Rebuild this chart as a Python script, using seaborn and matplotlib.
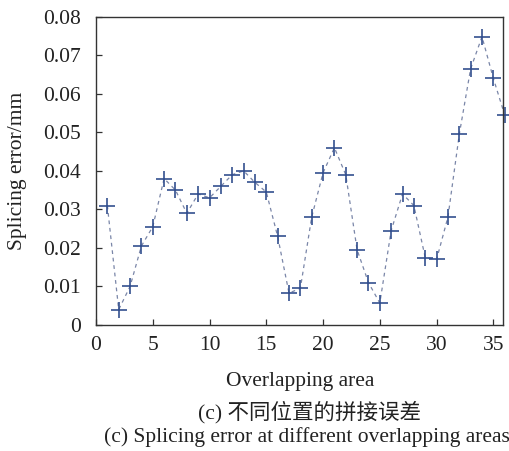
import matplotlib
matplotlib.use("Agg")
import matplotlib.pyplot as plt
import seaborn as sns
import pandas as pd

# ---- data ----
area = list(range(1, 37))
error = [0.031, 0.004, 0.010, 0.0205, 0.0255, 0.038, 0.035, 0.029, 0.034, 0.033,
         0.036, 0.039, 0.040, 0.037, 0.0345, 0.023, 0.0083, 0.0095, 0.028, 0.0395,
         0.046, 0.039, 0.0195, 0.011, 0.0057, 0.0245, 0.034, 0.031, 0.0175, 0.017,
         0.028, 0.0495, 0.0665, 0.0748, 0.064, 0.0545]
x_ticks = [0, 5, 10, 15, 20, 25, 30, 35]
y_ticks = [0, 0.01, 0.02, 0.03, 0.04, 0.05, 0.06, 0.07, 0.08]
y_tick_labels = ["0", "0.01", "0.02", "0.03", "0.04", "0.05", "0.06", "0.07", "0.08"]

df = pd.DataFrame({"area": area, "error": error})

sns.set_theme(style="white")
plt.rcParams["font.family"] = ["Liberation Serif", "Noto Sans CJK SC"]

FS = 15.5
fig = plt.figure(figsize=(5.10, 4.51), dpi=100)
ax = fig.add_axes([96 / 510, 1 - 325 / 451, (503 - 96) / 510, (325 - 16.7) / 451])

sns.lineplot(data=df, x="area", y="error", ax=ax, color="#7a86a8",
             linestyle=(0, (3, 3)), linewidth=0.9)
sns.lineplot(data=df, x="area", y="error", ax=ax, color="#34508f",
             linestyle="", marker="+", markersize=11, clip_on=False,
             markeredgecolor="#34508f", markeredgewidth=1.2)

ax.set_xlim(0, 35.85)
ax.set_ylim(0, 0.08)
ax.set_xticks(x_ticks)
ax.set_xticklabels([str(t) for t in x_ticks])
ax.set_yticks(y_ticks)
ax.set_yticklabels(y_tick_labels)
ax.set_xlabel("")
ax.set_ylabel("")

for s in ax.spines.values():
    s.set_color("#333333")
    s.set_linewidth(1.0)
    s.set_visible(True)

ax.tick_params(axis="both", which="both", direction="in", length=4, width=0.9,
               color="#333333", labelsize=FS, labelcolor="#222222",
               bottom=True, left=True, top=False, right=False)
ax.tick_params(axis="y", pad=11)
ax.tick_params(axis="x", pad=8)

fig.text(18 / 510, 1 - 171 / 451, "Splicing error/mm", rotation=90,
         ha="center", va="center", fontsize=FS, color="#222222")
fig.text(300 / 510, 1 - 381.5 / 451, "Overlapping area",
         ha="center", va="center", fontsize=FS, color="#222222")
fig.text(310 / 510, 1 - 412 / 451, "(c) 不同位置的拼接误差",
         ha="center", va="center", fontsize=FS, color="#222222")
fig.text(307 / 510, 1 - 437 / 451, "(c) Splicing error at different overlapping areas",
         ha="center", va="center", fontsize=FS, color="#222222")

fig.savefig("out.png", dpi=100, facecolor="white")
